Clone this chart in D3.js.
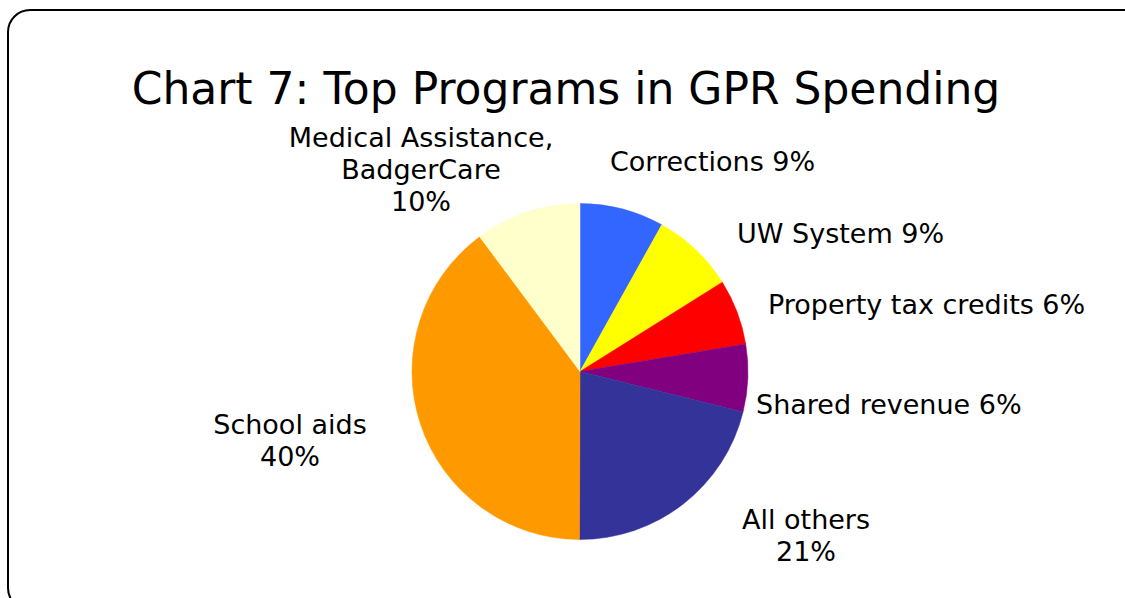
<!DOCTYPE html>
<html><head><meta charset="utf-8">
<script src="https://cdn.jsdelivr.net/npm/d3@7"></script>
<style>body{margin:0;background:#fff}svg{display:block}text{font-family:"DejaVu Sans",Verdana,sans-serif;fill:#000}</style>
</head><body>
<svg id="c" width="1125" height="598"></svg>
<script>
const categories = ["Corrections","UW System","Property tax credits","Shared revenue","All others","School aids","Medical Assistance, BadgerCare"];
const values = [8.1, 8.0, 6.3, 6.5, 21.2, 39.8, 10.2];
const labelLines = [["Corrections 9%"],["UW System 9%"],["Property tax credits 6%"],["Shared revenue 6%"],["All others","21%"],["School aids","40%"],["Medical Assistance,","BadgerCare","10%"]];
const colors = ["#3366FF","#FFFF00","#FF0000","#800080","#333399","#FF9900","#FFFFCC"];
const labelPos = [[610,161,"start"],[737,233,"start"],[768,304,"start"],[756,404,"start"],[806,519,"middle"],[290,424,"middle"],[421,137,"middle"]];

const svg = d3.select("#c");
svg.append("rect").attr("x",8).attr("y",10).attr("width",1140).attr("height",600)
  .attr("rx",22).attr("fill","#fff").attr("stroke","#000").attr("stroke-width",2);

svg.append("text").attr("x",566).attr("y",104).attr("text-anchor","middle")
  .attr("font-size",44).text("Chart 7: Top Programs in GPR Spending");

const cx = 580, cy = 371.5, r = 168;
const pie = d3.pie().sort(null).value(d=>d);
const arc = d3.arc().innerRadius(0).outerRadius(r);
const g = svg.append("g").attr("transform",`translate(${cx},${cy})`);
g.selectAll("path").data(pie(values)).join("path")
  .attr("d",arc).attr("fill",(d,i)=>colors[i]).attr("stroke",(d,i)=>colors[i]).attr("stroke-width",0.5);

const lg = svg.append("g");
labelLines.forEach((lines,i)=>{
  const [x,y,anchor] = labelPos[i];
  const t = lg.append("text").attr("x",x).attr("y",y).attr("text-anchor",anchor)
    .attr("font-size",27).attr("dominant-baseline","central");
  lines.forEach((ln,j)=>{
    t.append("tspan").attr("x",x).attr("y",y+j*32).text(ln);
  });
});
</script>
</body></html>
